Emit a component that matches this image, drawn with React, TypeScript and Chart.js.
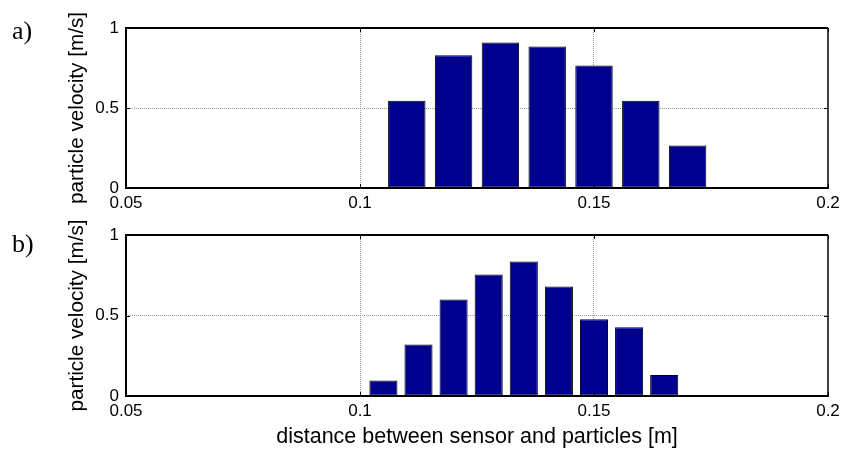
import React, { useEffect, useRef } from "react";
import { Chart, registerables } from "chart.js";

Chart.register(...registerables);

// ---- data ----
const xTicks = [0.05, 0.1, 0.15, 0.2];
const yTicks = [0, 0.5, 1];
const distanceA = [0.11, 0.12, 0.13, 0.14, 0.15, 0.16, 0.17, 0.18, 0.19];
const velocityA = [0.545, 0.83, 0.91, 0.885, 0.765, 0.545, 0.265, 0.005, 0];
const distanceB = [0.105, 0.1125, 0.12, 0.1275, 0.135, 0.1425, 0.15, 0.1575, 0.165];
const velocityB = [0.097, 0.32, 0.6, 0.755, 0.835, 0.68, 0.477, 0.427, 0.13];
const yTitle = "particle velocity [m/s]";
const xTitle = "distance between sensor and particles [m]";

const SANS = "'Liberation Sans', Arial, sans-serif";

const boxPlugin = {
  id: "matlabBox",
  afterDatasetsDraw(chart: any) {
    const { ctx, chartArea: a, scales } = chart;
    ctx.save();
    ctx.strokeStyle = "#000";
    // inward ticks
    ctx.lineWidth = 1;
    const tl = 4;
    ctx.beginPath();
    for (const v of xTicks) {
      const px = Math.round(scales.x.getPixelForValue(v)) + 0.5;
      ctx.moveTo(px, a.top);
      ctx.lineTo(px, a.top + tl);
      ctx.moveTo(px, a.bottom);
      ctx.lineTo(px, a.bottom - tl);
    }
    for (const v of yTicks) {
      const py = Math.round(scales.y.getPixelForValue(v)) + 0.5;
      ctx.moveTo(a.left, py);
      ctx.lineTo(a.left + tl, py);
      ctx.moveTo(a.right, py);
      ctx.lineTo(a.right - tl, py);
    }
    ctx.stroke();
    // box
    ctx.lineWidth = 2;
    ctx.beginPath();
    ctx.moveTo(a.left, a.top);
    ctx.lineTo(a.right, a.top);
    ctx.moveTo(a.left, a.top - 1);
    ctx.lineTo(a.left, a.bottom + 1);
    ctx.moveTo(a.left - 1, a.bottom);
    ctx.lineTo(a.right + 1, a.bottom);
    ctx.stroke();
    ctx.lineWidth = 1.5;
    ctx.beginPath();
    ctx.moveTo(a.right, a.top);
    ctx.lineTo(a.right, a.bottom);
    ctx.stroke();
    ctx.restore();
  },
};

function makeConfig(
  xs: number[],
  ys: number[],
  opts: { padTop: number; xHeight: number; showXTitle: boolean }
): any {
  return {
    type: "bar",
    data: {
      datasets: [
        {
          data: xs.map((x, i) => ({ x, y: ys[i] })),
          backgroundColor: "#00008F",
          borderColor: "#000000",
          borderWidth: 1,
          borderSkipped: false,
          barPercentage: 0.8,
          categoryPercentage: 1.0,
        },
      ],
    },
    options: {
      responsive: false,
      animation: false,
      devicePixelRatio: 1,
      layout: { padding: { top: opts.padTop, right: 14, left: 0, bottom: 0 } },
      plugins: { legend: { display: false }, tooltip: { enabled: false } },
      scales: {
        x: {
          type: "linear",
          min: 0.05,
          max: 0.2,
          offset: false,
          afterBuildTicks: (s: any) => {
            s.ticks = xTicks.map((v) => ({ value: v }));
          },
          afterFit: (s: any) => {
            s.height = opts.xHeight;
            s.paddingLeft = 0;
            s.paddingRight = 0;
          },
          ticks: {
            autoSkip: false,
            maxRotation: 0,
            padding: 5,
            color: "#000",
            font: { family: SANS, size: 17 },
            callback: (v: any) => String(v),
          },
          grid: {
            offset: false,
            drawTicks: false,
            color: (c: any) =>
              c.tick && (c.tick.value === 0.05 || c.tick.value === 0.2)
                ? "rgba(0,0,0,0)"
                : "#9a9a9a",
            lineWidth: 1,
          },
          border: { display: false, dash: [1, 1] },
          title: {
            display: opts.showXTitle,
            text: xTitle,
            color: "#000",
            font: { family: SANS, size: 21.5 },
            padding: { top: 0, bottom: 0 },
          },
        },
        y: {
          type: "linear",
          min: 0,
          max: 1,
          afterBuildTicks: (s: any) => {
            s.ticks = yTicks.map((v) => ({ value: v }));
          },
          afterFit: (s: any) => {
            s.width = 126;
            s.paddingTop = 0;
            s.paddingBottom = 0;
          },
          ticks: {
            padding: 7,
            color: "#000",
            font: { family: SANS, size: 17 },
            callback: (v: any) => String(v),
          },
          grid: {
            drawTicks: false,
            color: (c: any) =>
              c.tick && (c.tick.value === 0 || c.tick.value === 1)
                ? "rgba(0,0,0,0)"
                : "#9a9a9a",
            lineWidth: 1,
          },
          border: { display: false, dash: [1, 1] },
          title: {
            display: true,
            text: yTitle,
            color: "#000",
            font: { family: SANS, size: 20.7 },
            padding: { top: 65, bottom: 0 },
          },
        },
      },
    },
    plugins: [boxPlugin],
  };
}

export default function App() {
  const refA = useRef<HTMLCanvasElement>(null);
  const refB = useRef<HTMLCanvasElement>(null);

  useEffect(() => {
    const a = new Chart(
      refA.current as HTMLCanvasElement,
      makeConfig(distanceA, velocityA, { padTop: 28, xHeight: 27, showXTitle: false })
    );
    const b = new Chart(
      refB.current as HTMLCanvasElement,
      makeConfig(distanceB, velocityB, { padTop: 20, xHeight: 54, showXTitle: true })
    );
    return () => {
      a.destroy();
      b.destroy();
    };
  }, []);

  const labelStyle: React.CSSProperties = {
    position: "absolute",
    left: 12,
    fontFamily: "'Liberation Serif', 'Times New Roman', serif",
    fontSize: 26,
    lineHeight: "26px",
    color: "#000",
  };

  return (
    <div
      style={{
        position: "fixed",
        left: 0,
        top: 0,
        width: 842,
        height: 450,
        background: "#fff",
        overflow: "hidden",
      }}
    >
      <canvas
        ref={refA}
        width={842}
        height={215}
        style={{ position: "absolute", left: 0, top: 0, width: 842, height: 215 }}
      />
      <canvas
        ref={refB}
        width={842}
        height={235}
        style={{ position: "absolute", left: 0, top: 215, width: 842, height: 235 }}
      />
      <div style={{ ...labelStyle, top: 18 }}>a)</div>
      <div style={{ ...labelStyle, top: 231 }}>b)</div>
    </div>
  );
}
